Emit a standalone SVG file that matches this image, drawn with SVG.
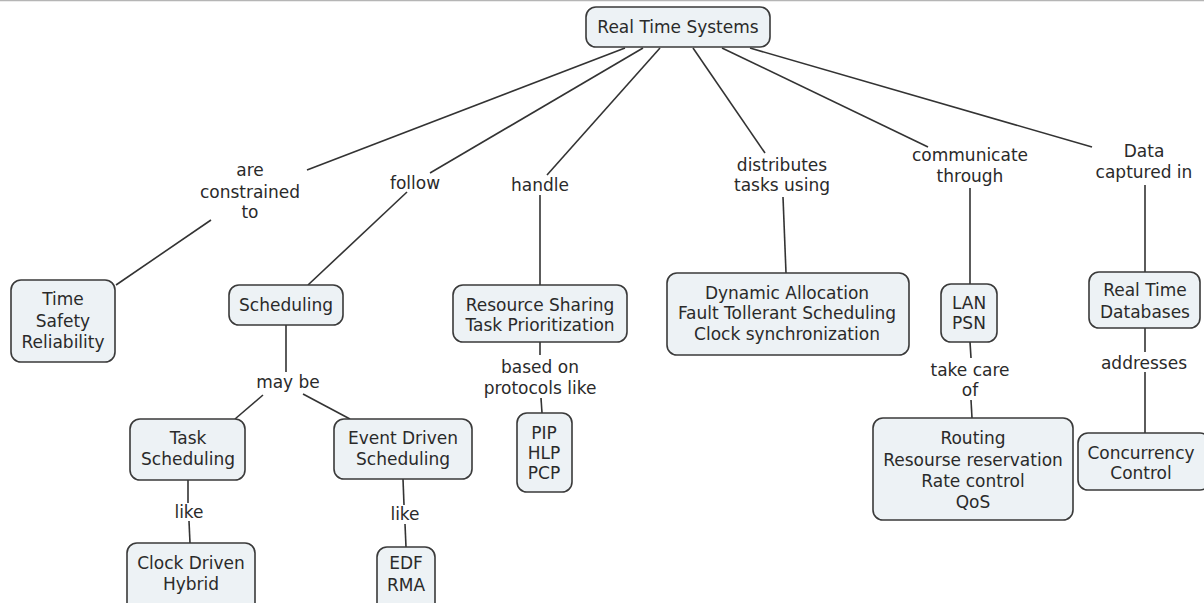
<svg xmlns="http://www.w3.org/2000/svg" width="1204" height="603" viewBox="0 0 1204 603">
<style>
.n rect{fill:#edf2f5;stroke:#3a3a3a;stroke-width:1.6}
text{font-family:"DejaVu Sans",Verdana,sans-serif;font-size:17px;fill:#2a2a2a;text-anchor:middle}
.c line{stroke:#333;stroke-width:1.6;fill:none}
</style>
<rect x="0" y="0" width="1204" height="603" fill="#fff"/>
<line x1="0" y1="0.5" x2="1204" y2="0.5" stroke="#b5b5b5" stroke-width="1.5"/>
<g class="c" id="connectors">
<line x1="625" y1="48" x2="307" y2="170"/><line x1="211" y1="220" x2="116" y2="285"/>
<line x1="643" y1="48" x2="430" y2="173"/><line x1="407" y1="192" x2="308" y2="285"/>
<line x1="660" y1="48" x2="547" y2="175"/><line x1="540" y1="195" x2="540" y2="285"/>
<line x1="693" y1="48" x2="765" y2="153"/><line x1="783" y1="197" x2="786" y2="273"/>
<line x1="722" y1="48" x2="928" y2="147"/><line x1="970" y1="188" x2="970" y2="284"/>
<line x1="750" y1="48" x2="1092" y2="147"/><line x1="1145" y1="185" x2="1145" y2="272"/>
<line x1="286" y1="325" x2="286" y2="372"/><line x1="263" y1="395" x2="235" y2="419"/><line x1="303" y1="394" x2="350" y2="419"/>
<line x1="188" y1="480" x2="188" y2="503"/><line x1="189" y1="521" x2="190" y2="543"/>
<line x1="403" y1="479" x2="404" y2="505"/><line x1="405" y1="524" x2="406" y2="547"/>
<line x1="540" y1="342" x2="540" y2="355"/><line x1="541" y1="398" x2="542" y2="413"/>
<line x1="970" y1="342" x2="971" y2="358"/><line x1="971" y1="400" x2="972" y2="418"/>
<line x1="1145" y1="328" x2="1145" y2="352"/><line x1="1145" y1="372" x2="1145" y2="433"/>
</g>
<g id="labels">
<text x="250" y="176">are</text><text x="250" y="198">constrained</text><text x="250" y="218">to</text>
<text x="415" y="189">follow</text>
<text x="540" y="191">handle</text>
<text x="782" y="171">distributes</text><text x="782" y="191">tasks using</text>
<text x="970" y="161">communicate</text><text x="970" y="182">through</text>
<text x="1144" y="157">Data</text><text x="1144" y="178">captured in</text>
<text x="288" y="388">may be</text>
<text x="189" y="518">like</text>
<text x="405" y="520">like</text>
<text x="540" y="373">based on</text><text x="540" y="394">protocols like</text>
<text x="970" y="376">take care</text><text x="970" y="396">of</text>
<text x="1144" y="369">addresses</text>
</g>
<g class="n" id="n-root"><rect x="586" y="7" width="184" height="40" rx="10"/><text x="678" y="33">Real Time Systems</text></g>
<g class="n" id="n-tsr"><rect x="11" y="280" width="104" height="82" rx="10"/><text x="63" y="305">Time</text><text x="63" y="327">Safety</text><text x="63" y="348">Reliability</text></g>
<g class="n" id="n-sched"><rect x="229" y="285" width="114" height="40" rx="10"/><text x="286" y="311">Scheduling</text></g>
<g class="n" id="n-task"><rect x="130" y="419" width="115" height="61" rx="10"/><text x="188" y="444">Task</text><text x="188" y="465">Scheduling</text></g>
<g class="n" id="n-event"><rect x="334" y="419" width="138" height="60" rx="10"/><text x="403" y="444">Event Driven</text><text x="403" y="465">Scheduling</text></g>
<g class="n" id="n-clock"><rect x="127" y="543" width="128" height="72" rx="10"/><text x="191" y="569">Clock Driven</text><text x="191" y="590">Hybrid</text></g>
<g class="n" id="n-edf"><rect x="377" y="547" width="58" height="68" rx="10"/><text x="406" y="569">EDF</text><text x="406" y="591">RMA</text></g>
<g class="n" id="n-resource"><rect x="453" y="285" width="174" height="57" rx="10"/><text x="540" y="311">Resource Sharing</text><text x="540" y="331">Task Prioritization</text></g>
<g class="n" id="n-pip"><rect x="517" y="413" width="55" height="79" rx="10"/><text x="544" y="439">PIP</text><text x="544" y="459">HLP</text><text x="544" y="479">PCP</text></g>
<g class="n" id="n-dynamic"><rect x="667" y="273" width="242" height="82" rx="10"/><text x="787" y="299">Dynamic Allocation</text><text x="787" y="319">Fault Tollerant Scheduling</text><text x="787" y="340">Clock synchronization</text></g>
<g class="n" id="n-lan"><rect x="941" y="284" width="56" height="58" rx="10"/><text x="969" y="309">LAN</text><text x="969" y="329">PSN</text></g>
<g class="n" id="n-routing"><rect x="873" y="418" width="200" height="102" rx="10"/><text x="973" y="444">Routing</text><text x="973" y="466">Resourse reservation</text><text x="973" y="487">Rate control</text><text x="973" y="508">QoS</text></g>
<g class="n" id="n-rtdb"><rect x="1089" y="272" width="111" height="56" rx="10"/><text x="1145" y="296">Real Time</text><text x="1145" y="318">Databases</text></g>
<g class="n" id="n-cc"><rect x="1078" y="433" width="132" height="57" rx="10"/><text x="1141" y="459">Concurrency</text><text x="1141" y="479">Control</text></g>
</svg>
